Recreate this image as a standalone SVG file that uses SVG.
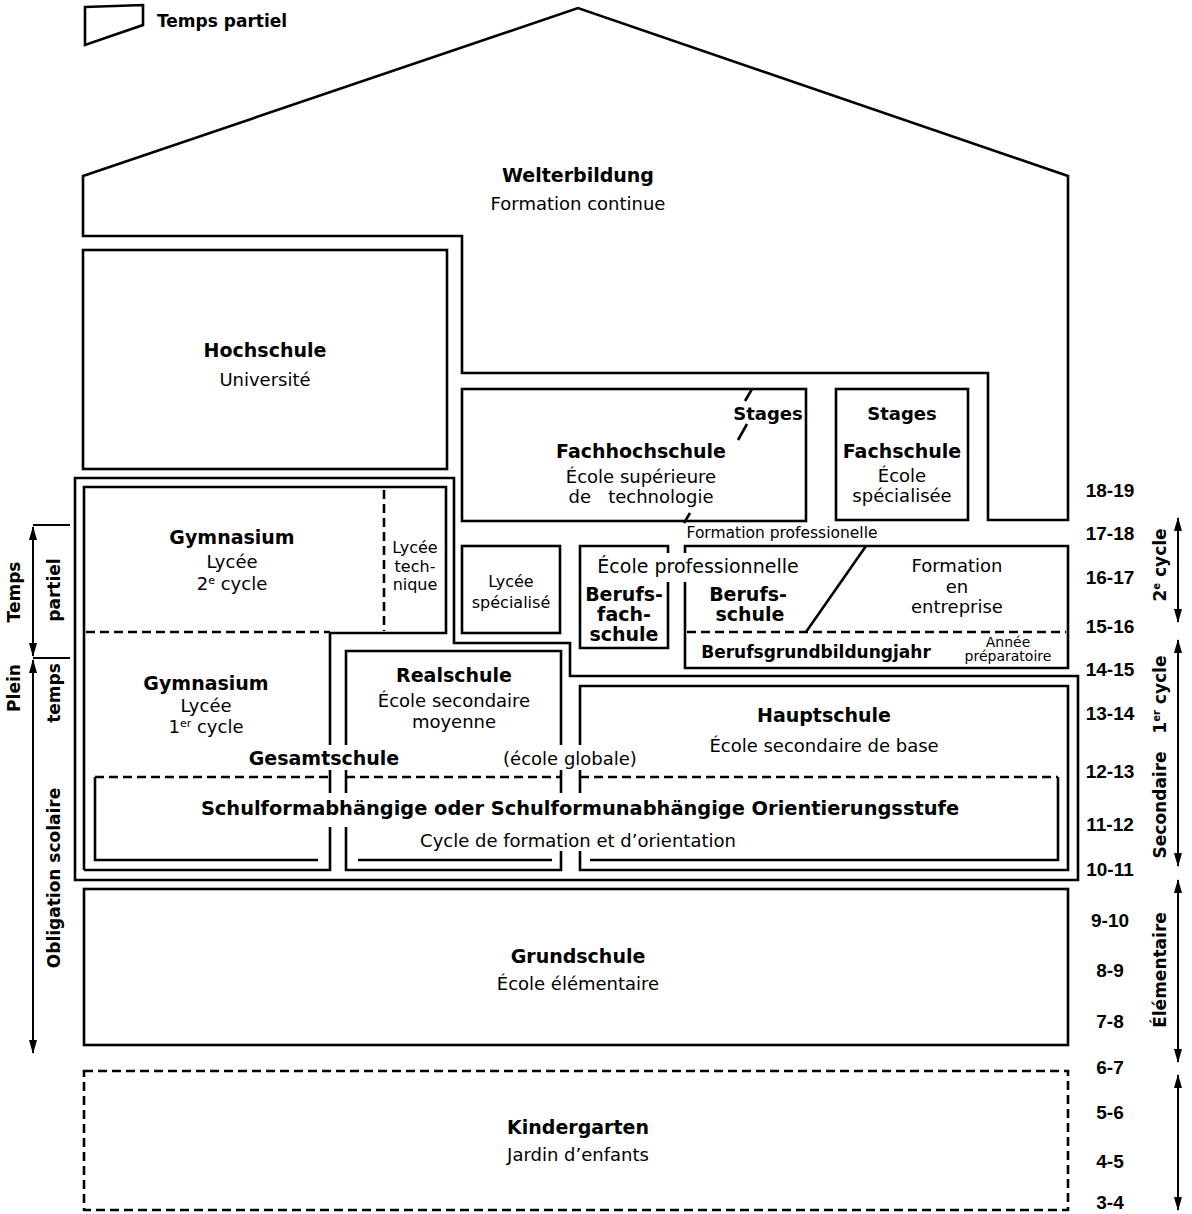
<svg xmlns="http://www.w3.org/2000/svg" width="1192" height="1214" viewBox="0 0 1192 1214">
<defs>
<style>
.b{font-family:"DejaVu Sans","Liberation Sans",sans-serif;font-weight:bold;font-size:19px;text-anchor:middle;fill:#000}
.r{font-family:"DejaVu Sans","Liberation Sans",sans-serif;font-size:18px;text-anchor:middle;fill:#000}
.a{font-family:"Liberation Sans",Arial,sans-serif;font-weight:bold;font-size:19px;text-anchor:middle;fill:#000}
.ln{fill:none;stroke:#000;stroke-width:2.6;stroke-linejoin:miter}
.ds{stroke-dasharray:9 5}
.ar{fill:none;stroke:#000;stroke-width:2}
</style>
<marker id="ah" viewBox="0 0 14 8" refX="13" refY="4" markerWidth="14" markerHeight="8" markerUnits="userSpaceOnUse" orient="auto-start-reverse">
<path d="M0,0 L14,4 L0,8 Z" fill="#000"/>
</marker>
</defs>
<rect width="1192" height="1214" fill="#fff"/>

<g id="legend">
<path class="ln" d="M85,7 L143,5 L143,25 L85,45 Z"/>
<text class="b" x="157" y="27" style="text-anchor:start;font-size:17px">Temps partiel</text>
</g>

<g id="weiterbildung">
<path class="ln" d="M83,176 L578,8 L1068,176 L1068,520 L988,520 L988,373 L462,373 L462,236 L83,236 Z"/>
<text class="b" x="578" y="182">Welterbildung</text>
<text class="r" x="578" y="210">Formation continue</text>
</g>

<g id="hochschule">
<rect class="ln" x="83" y="250" width="364" height="219"/>
<text class="b" x="265" y="357">Hochschule</text>
<text class="r" x="265" y="386">Université</text>
</g>

<g id="fachhochschule">
<rect class="ln" x="462" y="389" width="344" height="132"/>
<path class="ln" d="M752,389 L745,401 M747,424 L738,440 M690,513 L684,523" stroke-width="2"/>
<text class="b" x="768" y="420" style="font-size:18px">Stages</text>
<text class="b" x="641" y="458">Fachhochschule</text>
<text class="r" x="641" y="483">École supérieure</text>
<text class="r" x="641" y="503" xml:space="preserve">de   technologie</text>
</g>

<g id="fachschule">
<rect class="ln" x="836" y="389" width="132" height="131"/>
<text class="b" x="902" y="420" style="font-size:18px">Stages</text>
<text class="b" x="902" y="458">Fachschule</text>
<text class="r" x="902" y="482">École</text>
<text class="r" x="902" y="502">spécialisée</text>
</g>

<g id="formation-professionelle">
<text class="r" x="782" y="538" style="font-size:15.5px">Formation professionelle</text>
</g>

<g id="secondaire-cadre">
<path class="ln" d="M75,478 L454,478 L454,643 L570,643 L570,676 L1078,676 L1078,880 L75,880 Z"/>
</g>

<g id="gymnasium">
<path class="ln" d="M84,870 L84,487 L446,487 L446,633 L330,633"/>
<path class="ln ds" d="M86,632 L330,632 M384,490 L384,631"/>
<text class="b" x="232" y="544">Gymnasium</text>
<text class="r" x="232" y="568">Lycée</text>
<text class="r" x="232" y="590">2<tspan dy="-6" font-size="11">e</tspan><tspan dy="6"> cycle</tspan></text>
<text class="r" x="415" y="553" style="font-size:16px">Lycée</text>
<text class="r" x="415" y="572" style="font-size:16px">tech-</text>
<text class="r" x="415" y="590" style="font-size:16px">nique</text>
<text class="b" x="206" y="690">Gymnasium</text>
<text class="r" x="206" y="712">Lycée</text>
<text class="r" x="206" y="733">1<tspan dy="-6" font-size="11">er</tspan><tspan dy="6"> cycle</tspan></text>
<path class="ln" d="M330,633 L330,745 M330,770 L330,793 M330,827 L330,870 L84,870"/>
</g>

<g id="lycee-specialise">
<rect class="ln" x="462" y="546" width="98" height="87"/>
<text class="r" x="511" y="587" style="font-size:16px">Lycée</text>
<text class="r" x="511" y="608" style="font-size:16px">spécialisé</text>
</g>

<g id="berufsfachschule">
<path class="ln" d="M668,553 L668,546 L580,546 L580,648 L668,648 L668,582"/>
<text class="b" x="624" y="601">Berufs-</text>
<text class="b" x="624" y="621">fach-</text>
<text class="b" x="624" y="641">schule</text>
</g>

<g id="berufsschule">
<path class="ln" d="M685,553 L685,546 L1068,546 L1068,668 L685,668 L685,582"/>
<path class="ln ds" d="M687,632 L1066,632"/>
<path class="ln" d="M866,546 L806,632" stroke-width="2.2"/>
<text class="r" x="698" y="573" style="font-size:19px">École professionnelle</text>
<text class="b" x="748" y="601">Berufs-</text>
<text class="b" x="750" y="621">schule</text>
<text class="r" x="957" y="572">Formation</text>
<text class="r" x="957" y="593">en</text>
<text class="r" x="957" y="613">entreprise</text>
<text class="b" x="816" y="658" style="font-size:17px">Berufsgrundbildungjahr</text>
<text class="r" x="1008" y="647" style="font-size:14px">Année</text>
<text class="r" x="1008" y="661" style="font-size:14px">préparatoire</text>
</g>

<g id="realschule">
<path class="ln" d="M346,745 L346,651 L561,651 L561,745 M346,770 L346,793 M561,770 L561,793 M346,827 L346,870 L561,870 L561,851"/>
<text class="b" x="454" y="682">Realschule</text>
<text class="r" x="454" y="707">École secondaire</text>
<text class="r" x="454" y="728">moyenne</text>
</g>

<g id="hauptschule">
<path class="ln" d="M580,745 L580,686 L1068,686 L1068,870 L580,870 L580,851 M580,770 L580,793"/>
<text class="b" x="824" y="722">Hauptschule</text>
<text class="r" x="824" y="752">École secondaire de base</text>
</g>

<g id="gesamtschule">
<text class="b" x="324" y="765">Gesamtschule</text>
<text class="r" x="570" y="765">(école globale)</text>
</g>

<g id="orientierungsstufe">
<path class="ln ds" d="M95,777 L330,777 M346,777 L561,777 M580,777 L1058,777"/>
<path class="ln" d="M95,777 L95,860 L318,860 M358,860 L552,860 M590,860 L1058,860 L1058,777"/>
<text class="b" x="580" y="815" style="font-size:19.4px">Schulformabhängige oder Schulformunabhängige Orientierungsstufe</text>
<text class="r" x="578" y="847">Cycle de formation et d’orientation</text>
</g>

<g id="grundschule">
<rect class="ln" x="84" y="889" width="984" height="156"/>
<text class="b" x="578" y="963">Grundschule</text>
<text class="r" x="578" y="990">École élémentaire</text>
</g>

<g id="kindergarten">
<rect class="ln ds" x="84" y="1071" width="984" height="139"/>
<text class="b" x="578" y="1134">Kindergarten</text>
<text class="r" x="578" y="1161">Jardin d’enfants</text>
</g>

<g id="ages">
<text class="a" x="1110" y="497">18-19</text>
<text class="a" x="1110" y="540">17-18</text>
<text class="a" x="1110" y="584">16-17</text>
<text class="a" x="1110" y="633">15-16</text>
<text class="a" x="1110" y="676">14-15</text>
<text class="a" x="1110" y="720">13-14</text>
<text class="a" x="1110" y="778">12-13</text>
<text class="a" x="1110" y="831">11-12</text>
<text class="a" x="1110" y="876">10-11</text>
<text class="a" x="1110" y="927">9-10</text>
<text class="a" x="1110" y="977">8-9</text>
<text class="a" x="1110" y="1028">7-8</text>
<text class="a" x="1110" y="1074">6-7</text>
<text class="a" x="1110" y="1119">5-6</text>
<text class="a" x="1110" y="1168">4-5</text>
<text class="a" x="1110" y="1209">3-4</text>
</g>

<g id="labels">
<text class="b" transform="translate(1160,565) rotate(-90)" dy="0.35em" style="font-size:17px">2<tspan dy="-6" font-size="10">e</tspan><tspan dy="6"> cycle</tspan></text>
<text class="b" transform="translate(1160,757) rotate(-90)" dy="0.35em" style="font-size:17px" xml:space="preserve">Secondaire   1<tspan dy="-6" font-size="10">er</tspan><tspan dy="6"> cycle</tspan></text>
<text class="b" transform="translate(1160,970) rotate(-90)" dy="0.35em" style="font-size:17px">Élémentaire</text>
<text class="b" transform="translate(14,592) rotate(-90)" dy="0.35em" style="font-size:17px">Temps</text>
<text class="b" transform="translate(54,590) rotate(-90)" dy="0.35em" style="font-size:17px">partiel</text>
<text class="b" transform="translate(14,688) rotate(-90)" dy="0.35em" style="font-size:17px">Plein</text>
<text class="b" transform="translate(54,693) rotate(-90)" dy="0.35em" style="font-size:17px">temps</text>
<text class="b" transform="translate(54,878) rotate(-90)" dy="0.35em" style="font-size:17px">Obligation scolaire</text>
</g>

<g id="connectors">
<path class="ar" d="M33,525 L70,525 M33,658 L70,658"/>
<path class="ar" d="M33,527 L33,656" marker-start="url(#ah)" marker-end="url(#ah)"/>
<path class="ar" d="M33,660 L33,1053" marker-start="url(#ah)" marker-end="url(#ah)"/>
<path class="ar" d="M1178,518 L1178,622" marker-start="url(#ah)" marker-end="url(#ah)"/>
<path class="ar" d="M1178,640 L1178,866" marker-start="url(#ah)" marker-end="url(#ah)"/>
<path class="ar" d="M1178,880 L1178,1062" marker-start="url(#ah)" marker-end="url(#ah)"/>
<path class="ar" d="M1178,1075 L1178,1210" marker-start="url(#ah)" marker-end="url(#ah)"/>
</g>
</svg>
